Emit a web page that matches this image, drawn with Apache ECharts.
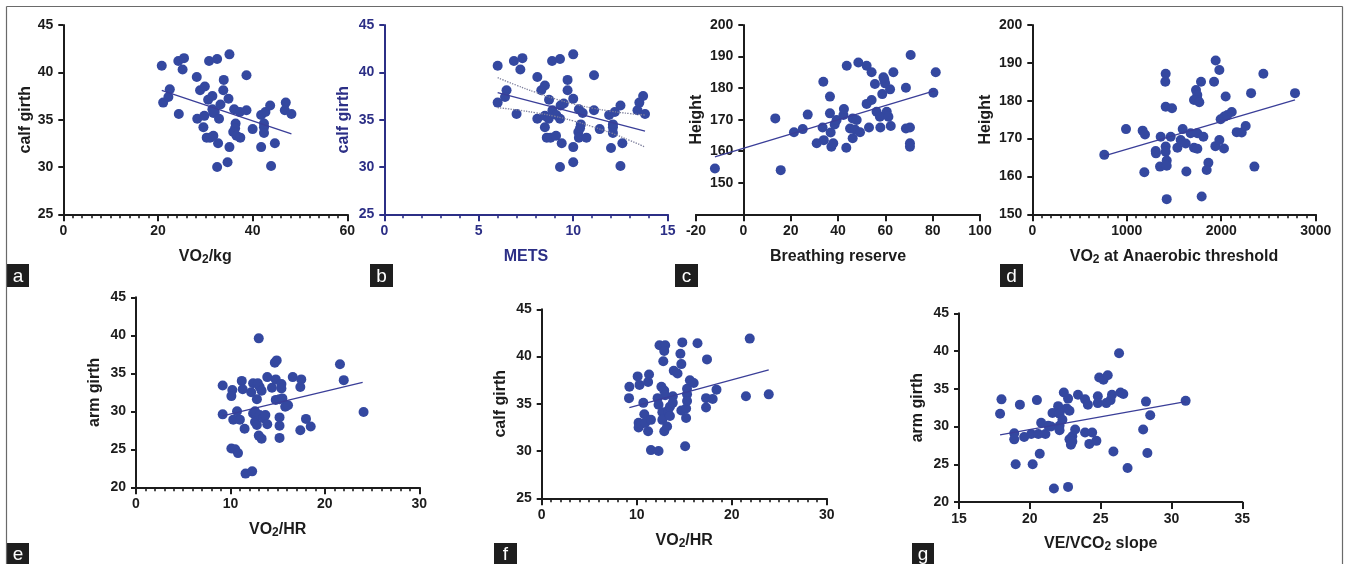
<!DOCTYPE html>
<html><head><meta charset="utf-8">
<script src="https://cdn.jsdelivr.net/npm/echarts@6.0.0/dist/echarts.min.js"></script>
<style>html,body{margin:0;padding:0;background:#fff}#c{width:1346px;height:564px}</style>
</head><body><div id="c"></div>
<script>
// ---------- DATA ----------
const panelA = [[20.8,40.7],[21.1,36.8],[22.5,38.2],[22.2,37.4],[24.3,41.2],[25.5,41.5],[25.2,40.3],[24.4,35.6],[28.2,39.5],[28.9,38.1],[29.9,38.5],[28.3,35.1],[29.6,34.2],[29.8,35.4],[30.3,33.1],[31.0,33.1],[30.6,37.1],[31.5,37.5],[30.8,41.2],[32.5,41.4],[31.7,35.7],[31.5,36.1],[32.0,35.8],[32.9,35.1],[31.7,33.3],[32.7,32.5],[32.5,30.0],[33.2,36.6],[33.8,38.1],[33.9,39.2],[34.9,37.2],[35.1,41.9],[34.7,30.5],[35.1,32.1],[36.1,36.1],[36.4,34.6],[36.3,34.1],[35.9,33.7],[36.6,33.3],[37.4,33.1],[37.3,35.8],[38.7,36.0],[38.7,39.7],[40.0,34.0],[41.8,35.5],[42.7,35.8],[43.7,36.5],[42.4,34.6],[42.4,34.2],[42.4,33.6],[41.8,32.1],[44.7,32.5],[43.9,30.1],[47.0,36.8],[46.8,36.0],[48.2,35.6]];
const aFitX = [20.8, 48.2];
const aFitY = [38.1, 33.5];

const panelB = [[6.0,40.7],[6.0,36.8],[6.47,38.1],[6.39,37.4],[6.86,41.2],[7.31,41.5],[7.2,40.3],[7.0,35.6],[8.1,39.5],[8.31,38.1],[8.5,38.6],[8.1,35.1],[8.5,34.2],[8.5,35.4],[8.6,33.1],[8.8,33.1],[8.72,37.1],[8.7,35.1],[8.88,41.2],[9.3,41.4],[8.9,36.0],[9.09,33.3],[9.1,35.5],[9.3,35.1],[9.39,32.5],[9.3,30.0],[9.33,36.5],[9.5,36.7],[9.7,38.1],[9.7,39.2],[10.0,37.2],[10.0,41.9],[10.0,30.5],[10.0,32.1],[10.3,36.1],[10.4,34.5],[10.36,34.1],[10.27,33.7],[10.3,33.1],[10.7,33.1],[10.5,35.7],[11.1,36.0],[11.1,39.7],[11.4,34.0],[11.9,35.5],[12.2,35.8],[12.5,36.5],[12.1,34.5],[12.1,34.2],[12.1,33.6],[12.0,32.0],[12.6,32.5],[12.5,30.1],[13.4,36.0],[13.5,36.8],[13.7,37.5],[13.8,35.6]];
const bFitX = [6.0, 13.8];
const bFitY = [37.85, 33.8];
const bBandX = [6, 7, 8, 9, 10, 11, 12, 13, 13.8];
const bUpperY = [39.43, 38.63, 37.89, 37.22, 36.67, 36.23, 35.89, 35.64, 35.49];
const bLowerY = [36.27, 36.03, 35.73, 35.36, 34.87, 34.27, 33.59, 32.80, 32.11];

const panelC = [[-12.0,154.5],[15.8,154.0],[13.5,170.4],[21.4,166.0],[25.1,167.0],[27.2,171.6],[31.0,162.5],[34.0,163.5],[33.5,167.5],[33.8,182.0],[36.6,172.0],[36.6,177.3],[36.9,165.9],[37.2,161.4],[38.0,162.5],[38.6,168.5],[39.4,169.9],[42.3,171.5],[42.5,173.4],[43.7,187.1],[43.5,161.1],[45.1,167.2],[46.2,170.4],[47.2,166.9],[46.2,164.1],[47.9,169.9],[48.6,188.1],[49.3,166.0],[52.1,187.1],[52.1,175.0],[54.2,176.2],[54.2,185.0],[53.1,167.5],[55.6,181.3],[56.3,172.5],[57.7,170.9],[57.9,167.5],[58.7,178.1],[59.6,182.6],[59.9,181.5],[59.2,183.4],[60.6,172.5],[61.3,170.9],[62.0,179.6],[62.3,168.0],[63.4,185.0],[68.7,180.1],[68.7,167.2],[70.4,167.5],[70.4,162.5],[70.4,161.4],[70.7,190.5],[80.3,178.5],[81.3,185.0]];
const cFitX = [-12, 81];
const cFitY = [158.2, 179.2];

const panelD = [[762,165.7],[992,172.5],[1168,172.1],[1193,171.1],[1186,161.1],[1306,166.7],[1309,166.1],[1359,170.5],[1352,162.6],[1412,187.1],[1408,185.0],[1412,178.4],[1479,178.0],[1412,167.9],[1412,166.5],[1423,164.2],[1423,162.8],[1423,154.0],[1465,170.5],[1536,167.6],[1592,172.5],[1571,169.6],[1624,168.7],[1631,161.3],[1676,171.4],[1712,167.6],[1747,167.3],[1733,182.8],[1747,181.5],[1751,180.2],[1712,180.2],[1768,179.6],[1747,171.4],[1786,185.0],[1811,170.5],[1793,154.7],[1864,163.6],[1846,161.7],[1924,185.0],[1941,190.6],[1980,188.1],[1938,168.0],[1980,169.6],[1994,175.1],[2033,175.8],[2047,181.1],[2029,167.4],[2065,176.2],[2111,177.0],[2164,171.7],[2217,171.6],[2259,173.3],[2316,182.0],[2351,162.6],[2446,187.1],[2781,182.0]];
const dFitX = [762, 2781];
const dFitY = [165.4, 180.2];

const panelE = [[9.18,33.4],[9.18,29.6],[10.2,32.8],[10.1,32.0],[10.1,25.1],[10.5,25.0],[10.8,24.5],[10.3,28.9],[10.7,30.0],[11.0,28.9],[11.2,34.0],[11.3,32.9],[11.5,27.7],[11.6,21.8],[12.3,22.1],[12.2,32.5],[12.4,33.7],[12.9,33.7],[12.8,31.6],[12.4,29.7],[12.6,30.0],[12.6,28.6],[12.8,28.2],[13.0,39.6],[13.1,33.2],[13.3,32.7],[13.0,26.8],[13.3,26.4],[13.1,29.5],[13.5,29.1],[13.7,29.5],[13.9,34.5],[13.9,28.3],[14.4,33.1],[14.7,36.4],[14.9,36.7],[14.8,34.2],[14.8,31.5],[15.2,31.6],[15.2,29.2],[15.2,28.1],[15.2,26.5],[15.4,33.6],[15.4,33.0],[15.5,31.7],[15.8,30.6],[16.1,30.8],[16.6,34.5],[17.4,33.2],[17.5,34.2],[17.4,27.5],[18.0,29.0],[18.5,28.0],[21.6,36.2],[22.0,34.1],[24.1,29.9]];
const eFitX = [9.18, 24.0];
const eFitY = [29.4, 33.8];

const panelF = [[9.23,36.8],[9.19,35.6],[10.1,37.9],[10.3,37.0],[10.7,35.1],[10.8,33.9],[10.2,33.0],[10.2,32.5],[10.5,32.9],[10.9,33.0],[11.2,37.3],[11.3,38.1],[11.2,32.1],[11.5,33.3],[11.5,30.1],[12.3,30.0],[12.4,41.2],[13.0,41.2],[12.9,40.6],[12.8,39.5],[12.2,35.6],[12.3,34.9],[12.6,36.8],[12.9,36.4],[12.7,34.1],[12.7,33.3],[13.0,35.9],[12.9,32.1],[13.2,32.6],[13.3,34.3],[13.5,34.7],[13.5,33.7],[13.8,35.8],[13.8,35.1],[13.9,38.5],[14.3,38.2],[14.6,40.3],[14.7,39.2],[14.8,41.5],[14.7,34.3],[15.2,33.5],[15.2,34.5],[15.1,30.5],[15.3,36.6],[15.3,36.0],[15.3,35.3],[15.6,37.5],[16.0,37.2],[16.4,41.4],[17.3,34.6],[17.4,39.7],[17.3,35.6],[18.0,35.5],[18.4,36.5],[21.5,35.8],[21.9,41.9],[23.9,36.0]];
const fFitX = [9.23, 23.9];
const fFitY = [34.6, 38.6];

const panelG = [[18.0,33.6],[17.9,31.7],[18.9,29.1],[18.9,28.3],[19.3,32.9],[19.0,25.0],[19.6,28.6],[20.1,29.0],[20.6,29.0],[20.2,25.0],[20.5,33.5],[20.7,26.4],[20.8,30.5],[21.1,29.0],[21.3,30.1],[21.5,30.0],[21.6,31.8],[21.7,21.8],[22.0,32.7],[22.1,31.7],[22.1,30.1],[22.1,29.5],[22.3,30.9],[22.4,34.5],[22.6,32.4],[22.7,33.7],[22.7,22.0],[22.8,32.1],[22.8,28.3],[23.0,28.7],[22.9,27.6],[23.0,28.0],[23.2,29.6],[23.4,34.2],[23.9,33.6],[24.1,32.9],[23.9,29.2],[24.2,27.7],[24.4,29.2],[24.7,28.1],[24.8,34.0],[24.8,33.1],[24.9,36.5],[25.2,36.2],[25.5,36.8],[25.4,33.1],[25.7,33.5],[25.8,34.2],[25.9,26.7],[26.3,39.7],[26.4,34.5],[26.6,34.3],[26.9,24.5],[28.0,29.6],[28.2,33.3],[28.3,26.5],[28.5,31.5],[31.0,33.4]];
const gFitX = [17.9, 31.0];
const gFitY = [28.9, 33.3];

// axis titles and panel letters
const xTitles = ['{t|VO}{s|2}{t|/kg}', '{t|METS}', '{t|Breathing reserve}', '{t|VO}{s|2}{t| at Anaerobic threshold}', '{t|VO}{s|2}{t|/HR}', '{t|VO}{s|2}{t|/HR}', '{t|VE/VCO}{s|2}{t| slope}'];
const yTitles = ['calf girth', 'calf girth', 'Height', 'Height', 'arm girth', 'calf girth', 'arm girth'];
const letters = ['a', 'b', 'c', 'd', 'e', 'f', 'g'];

// ---------- STYLE / LAYOUT ----------
const FONT = '"Liberation Sans", Arial, Helvetica, sans-serif';
const INK = '#1c1c1c', NAVY = '#2c2f86', DOT = '#3448a0', FIT = '#3a3e98', BAND = '#7d7f9c';

const panels = [
  {pts: panelA, fx: aFitX, fy: aFitY, grid: [63.3, 25, 284, 189.3], x: [0, 60, 20, 10], y: [25, 45, 5], ygap: 30, ink: INK, box: [7, 264, 22, 23]},
  {pts: panelB, fx: bFitX, fy: bFitY, grid: [384.3, 25, 283.4, 189.3], x: [0, 15, 5, 5], y: [25, 45, 5], ygap: 33, ink: NAVY, box: [370, 264, 23, 23]},
  {pts: panelC, fx: cFitX, fy: cFitY, grid: [696, 25, 284, 189.3], x: [-20, 100, 20, 0], y: [140, 200, 10], ygap: 39, ink: INK, box: [675, 264, 23, 23], hideMin: true, yShift: -47.33},
  {pts: panelD, fx: dFitX, fy: dFitY, grid: [1032.3, 25, 283.4, 189.3], x: [0, 3000, 1000, 10], y: [150, 200, 10], ygap: 39, ink: INK, box: [1000, 264, 23, 23]},
  {pts: panelE, fx: eFitX, fy: eFitY, grid: [136, 297.3, 283.3, 190], x: [0, 30, 10, 10], y: [20, 45, 5], ygap: 33, ink: INK, box: [7, 543, 22, 21]},
  {pts: panelF, fx: fFitX, fy: fFitY, grid: [541.7, 309.3, 285, 189], x: [0, 30, 10, 10], y: [25, 45, 5], ygap: 33, ink: INK, box: [494, 543, 23, 21]},
  {pts: panelG, fx: gFitX, fy: gFitY, grid: [959, 313.3, 283.3, 188.7], x: [15, 35, 5, 0], y: [20, 45, 5], ygap: 33, ink: INK, box: [912, 543, 22, 21]}
];

const grids = [], xAxes = [], yAxes = [], series = [], graphics = [];

panels.forEach((p, i) => {
  grids.push({left: p.grid[0], top: p.grid[1], width: p.grid[2], height: p.grid[3], containLabel: false, outerBoundsMode: 'none'});
  const lbl = {fontFamily: FONT, fontSize: 14, fontWeight: 'bold', color: p.ink};
  xAxes.push({
    type: 'value', gridIndex: i, min: p.x[0], max: p.x[1], interval: p.x[2],
    splitLine: {show: false},
    axisLine: {show: true, onZero: false, lineStyle: {color: p.ink, width: 2}},
    axisTick: {show: true, length: 7, lineStyle: {color: p.ink, width: 2}},
    minorTick: {show: p.x[3] > 0, splitNumber: p.x[3] || 5, length: 4, lineStyle: {color: p.ink, width: 1.6}},
    minorSplitLine: {show: false},
    axisLabel: Object.assign({margin: 10, formatter: v => String(v)}, lbl),
    name: xTitles[i], nameLocation: 'middle', nameGap: 33, nameMoveOverlap: false,
    nameTextStyle: {
      color: p.ink,
      rich: {
        t: {fontFamily: FONT, fontSize: 16, fontWeight: 'bold', color: p.ink, lineHeight: 18},
        s: {fontFamily: FONT, fontSize: 12, fontWeight: 'bold', color: p.ink, lineHeight: 10, verticalAlign: 'bottom'}
      }
    }
  });
  yAxes.push({
    type: 'value', gridIndex: i, min: p.y[0], max: p.y[1], interval: p.y[2],
    offset: p.yShift || 0,
    splitLine: {show: false},
    axisLine: {show: true, onZero: false, lineStyle: {color: p.ink, width: 2}},
    axisTick: {show: true, length: 5, lineStyle: {color: p.ink, width: 2}},
    axisLabel: Object.assign({margin: 10, formatter: v => (p.hideMin && v === p.y[0]) ? '' : String(v)}, lbl),
    name: yTitles[i], nameLocation: 'middle', nameGap: p.ygap, nameMoveOverlap: false,
    nameTextStyle: {fontFamily: FONT, fontSize: 16, fontWeight: 'bold', color: p.ink}
  });
  series.push({
    type: 'scatter', xAxisIndex: i, yAxisIndex: i, data: p.pts, symbol: 'circle', symbolSize: 10,
    itemStyle: {color: DOT, opacity: 1}, silent: true, z: 2
  });
  series.push({
    type: 'line', xAxisIndex: i, yAxisIndex: i, data: p.fx.map((x, k) => [x, p.fy[k]]),
    symbol: 'none', showSymbol: false, lineStyle: {color: FIT, width: 1.3}, silent: true, z: 3
  });
  graphics.push({type: 'rect', shape: {x: p.box[0], y: p.box[1], width: p.box[2], height: p.box[3]}, style: {fill: '#1e1e1e'}, z: 10});
  graphics.push({type: 'text', x: p.box[0] + p.box[2] / 2, y: p.box[1] + p.box[3] / 2 + 1,
    style: {text: letters[i], fill: '#ffffff', font: '19px ' + FONT, textAlign: 'center', textVerticalAlign: 'middle'}, z: 11});
});

// confidence band for panel b
series.push({type: 'line', xAxisIndex: 1, yAxisIndex: 1, data: bBandX.map((x, k) => [x, bUpperY[k]]), smooth: true,
  symbol: 'none', showSymbol: false, lineStyle: {color: BAND, width: 1.3, type: 'dotted'}, silent: true, z: 3});
series.push({type: 'line', xAxisIndex: 1, yAxisIndex: 1, data: bBandX.map((x, k) => [x, bLowerY[k]]), smooth: true,
  symbol: 'none', showSymbol: false, lineStyle: {color: BAND, width: 1.3, type: 'dotted'}, silent: true, z: 3});

// outer frame
const FR = '#6a6a6a';
graphics.push({type: 'line', shape: {x1: 6.5, y1: 6.5, x2: 1342.5, y2: 6.5}, style: {stroke: FR, lineWidth: 1.2}, z: 10});
graphics.push({type: 'line', shape: {x1: 6.5, y1: 6.5, x2: 6.5, y2: 564}, style: {stroke: FR, lineWidth: 1.2}, z: 10});
graphics.push({type: 'line', shape: {x1: 1342.5, y1: 6.5, x2: 1342.5, y2: 564}, style: {stroke: FR, lineWidth: 1.2}, z: 10});

const chart = echarts.init(document.getElementById('c'), null, {renderer: 'canvas'});
chart.setOption({
  animation: false,
  backgroundColor: '#ffffff',
  grid: grids, xAxis: xAxes, yAxis: yAxes, series: series,
  graphic: graphics
});
</script>
</body></html>
